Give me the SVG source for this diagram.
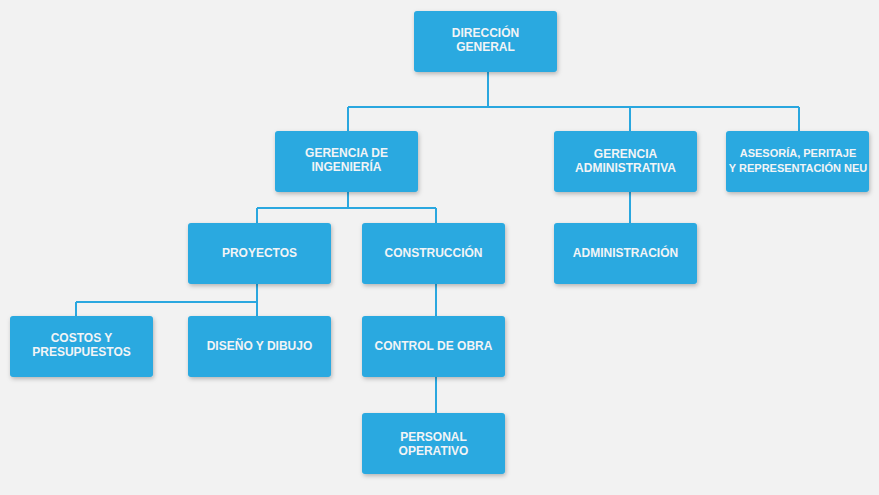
<svg xmlns="http://www.w3.org/2000/svg" width="879" height="495" viewBox="0 0 879 495">
<defs>
<filter id="sh" x="-10%" y="-10%" width="125%" height="130%">
<feDropShadow dx="1" dy="2" stdDeviation="2" flood-color="#000" flood-opacity="0.25"/>
</filter>
<style>
.n{fill:#29A9E0;filter:url(#sh)}
.t{font-family:"Liberation Sans",Arial,sans-serif;font-weight:bold;font-size:12px;fill:#F2F4F6;text-anchor:middle}
.s{font-size:11px}
.c{stroke:#2AA7DF;stroke-width:2;fill:none}
</style>
</defs>
<rect width="879" height="495" fill="#F2F2F2"/>
<g id="connectors">
<path class="c" d="M488,72V107M348,107H799M348,107V131M630,107V131M799,107V131"/>
<path class="c" d="M348,192V208M257,208H436M257,208V223M436,208V223"/>
<path class="c" d="M630,192V223"/>
<path class="c" d="M257,284V316M76,302H257M76,302V316"/>
<path class="c" d="M436,284V316M436,377V413"/>
</g>
<g id="direccion"><rect class="n" x="414" y="11" width="143" height="61" rx="3"/><text class="t" x="485.5" y="37">DIRECCIÓN</text><text class="t" x="485.5" y="51">GENERAL</text></g>
<g id="ingenieria"><rect class="n" x="275" y="131" width="143" height="61" rx="3"/><text class="t" x="346.5" y="157">GERENCIA DE</text><text class="t" x="346.5" y="171">INGENIERÍA</text></g>
<g id="administrativa"><rect class="n" x="554" y="131" width="143" height="61" rx="3"/><text class="t" x="625.5" y="158">GERENCIA</text><text class="t" x="625.5" y="172">ADMINISTRATIVA</text></g>
<g id="asesoria"><rect class="n" x="726" y="131" width="143" height="61" rx="3"/><text class="t s" x="798" y="157">ASESORÍA, PERITAJE</text><text class="t s" x="798" y="172">Y REPRESENTACIÓN NEU</text></g>
<g id="proyectos"><rect class="n" x="188" y="223" width="143" height="61" rx="3"/><text class="t" x="259.5" y="257">PROYECTOS</text></g>
<g id="construccion"><rect class="n" x="362" y="223" width="143" height="61" rx="3"/><text class="t" x="433.5" y="257">CONSTRUCCIÓN</text></g>
<g id="administracion"><rect class="n" x="554" y="223" width="143" height="61" rx="3"/><text class="t" x="625.5" y="257">ADMINISTRACIÓN</text></g>
<g id="costos"><rect class="n" x="10" y="316" width="143" height="61" rx="3"/><text class="t" x="81.5" y="342">COSTOS Y</text><text class="t" x="81.5" y="356">PRESUPUESTOS</text></g>
<g id="diseno"><rect class="n" x="188" y="316" width="143" height="61" rx="3"/><text class="t" x="259.5" y="350">DISEÑO Y DIBUJO</text></g>
<g id="control"><rect class="n" x="362" y="316" width="143" height="61" rx="3"/><text class="t" x="433.5" y="350">CONTROL DE OBRA</text></g>
<g id="personal"><rect class="n" x="362" y="413" width="143" height="61" rx="3"/><text class="t" x="433.5" y="441">PERSONAL</text><text class="t" x="433.5" y="455">OPERATIVO</text></g>
</svg>
